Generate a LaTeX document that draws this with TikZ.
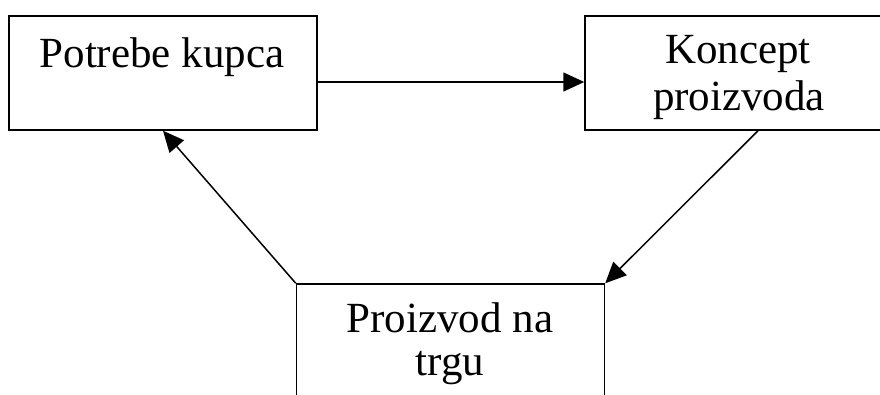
\documentclass[tikz,border=0pt]{standalone}
\usepackage{fontspec}
\setmainfont{Liberation Serif}
\usetikzlibrary{arrows.meta}
\begin{document}
\begin{tikzpicture}[x=1pt,y=-1pt,
  box/.style={draw=black, line width=1.5pt, rectangle, inner sep=0pt, minimum width=308pt, minimum height=114pt},
  txt/.style={anchor=base, inner sep=0pt, font=\fontsize{43}{46}\selectfont},
  arr/.style={draw=black, line width=1.5pt, -{Triangle[length=21pt,width=19pt]}}]
\useasboundingbox (0,0) rectangle (880,394);
\clip (0,0) rectangle (880,394);
\fill[white] (0,0) rectangle (880,394);
\node[box] (b1) at (163,73) {};
\node[box] (b2) at (739,73) {};
\node[box] (b3) at (450.5,341) {};
\node[txt] (t1) at (162,67) {Potrebe kupca};
\node[txt] (t2a) at (738,63) {Koncept};
\node[txt] (t2b) at (739,110) {proizvoda};
\node[txt] (t3a) at (450,332) {Proizvod na};
\node[txt] (t3b) at (450,375) {trgu};
\draw[arr] (b1.east |- 0,82) -- (b2.west |- 0,82);
\draw[arr] (b2.south -| 758,0) -- (b3.north east);
\draw[arr] (b3.north west) -- (b1.south);
\end{tikzpicture}
\end{document}
